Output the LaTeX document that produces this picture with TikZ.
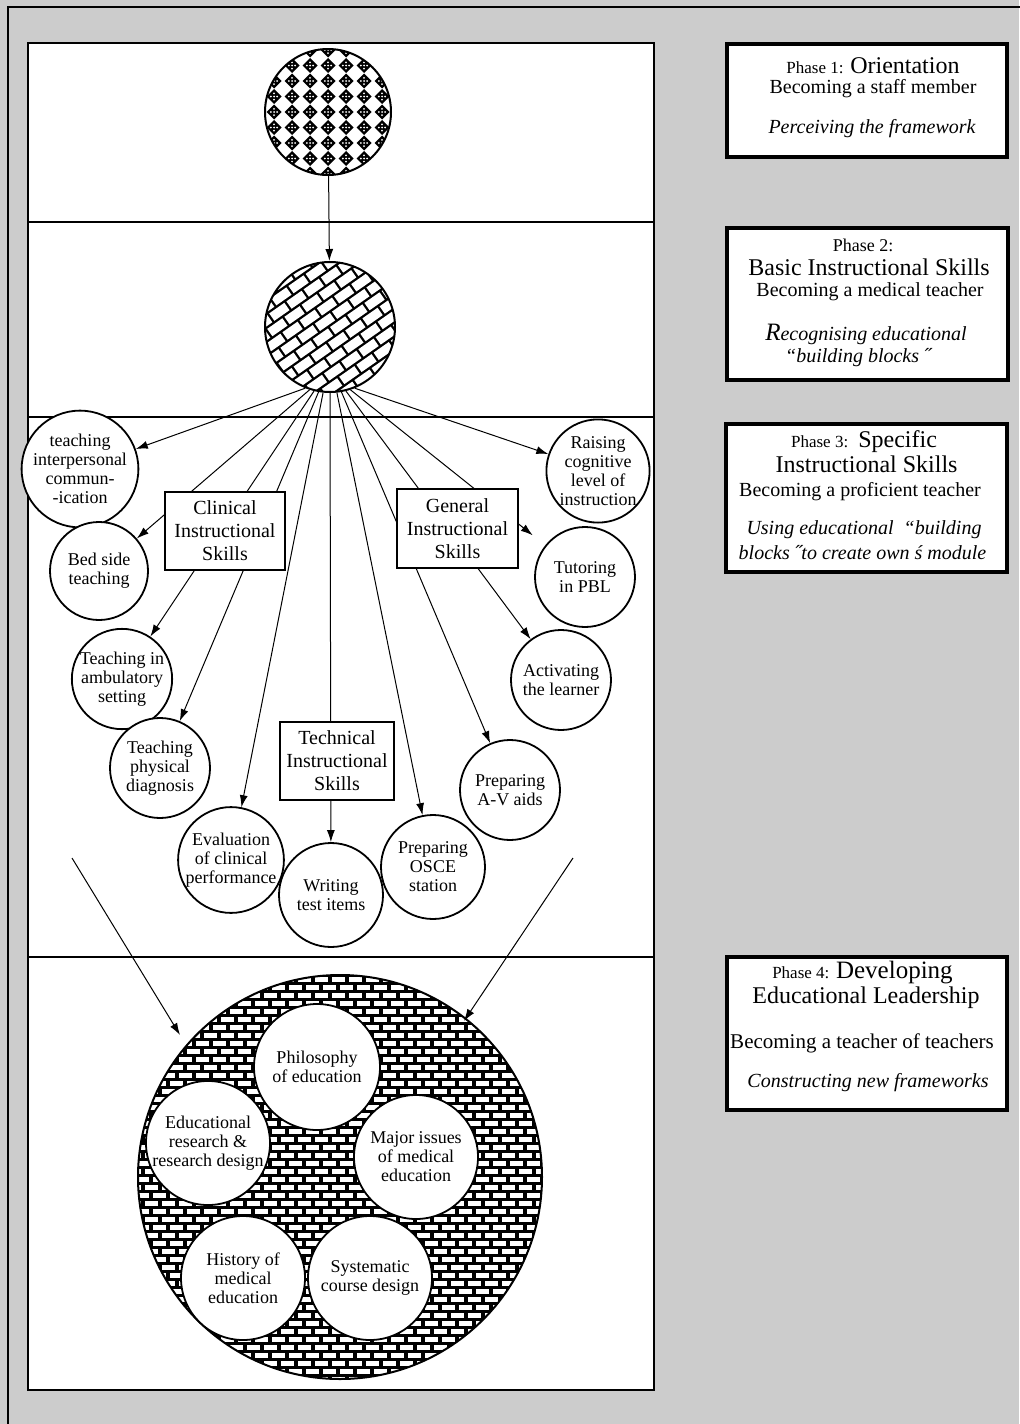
\documentclass[tikz,border=0pt]{standalone}
\usepackage{fontspec}
\setmainfont{Liberation Serif}
\usetikzlibrary{arrows.meta,calc}
\definecolor{pagegray}{RGB}{204,204,204}
\pgfdeclarelayer{bg}
\pgfdeclarelayer{rays}
\pgfsetlayers{bg,rays,main}
\begin{document}
\begin{tikzpicture}[x=0.5pt,y=-0.5pt,
  ray/.style={-{Latex[length=6pt,width=4pt]}, line width=0.5pt},
  skill/.style={circle, draw, line width=0.9pt, fill=white, inner sep=0pt, align=center,
    font=\fontsize{9}{9.5}\selectfont},
  ring/.style={circle, draw, line width=1pt, inner sep=0pt},
  catbox/.style={rectangle, draw, line width=0.7pt, fill=white, align=center, inner sep=0pt,
    font=\fontsize{10}{11.5}\selectfont},
  phasebox/.style={rectangle, draw, line width=2pt, fill=white, inner sep=0pt},
  ptext/.style={anchor=base, inner sep=0pt, font=\fontsize{10}{12}\selectfont},
]
\useasboundingbox (0,0) rectangle (1019,1424);

% page, frame, white panel and phase dividers
\begin{pgfonlayer}{bg}
  \fill[pagegray] (0,0) rectangle (1019,1424);
  \draw[line width=1pt] (8,1440) -- (8,7) -- (1040,7);
  \draw[line width=1.3pt, fill=white] (28,43) rectangle (654,1390);
  \draw[line width=1pt] (28,222) -- (654,222);
  \draw[line width=1pt] (28,417) -- (654,417);
  \draw[line width=1pt] (28,957) -- (654,957);
\end{pgfonlayer}

% phase 1 circle: textured diamonds
\begin{scope}
  \clip (328,112) circle (31.5pt);
  \foreach \i in {-4,...,4}{
    \foreach \j in {-5,...,5}{
      \fill ({328+\i*18},{112+\j*15.5}) +(0,-7.5) -- +(7.5,0) -- +(0,7.5) -- +(-7.5,0) -- cycle;
      \foreach \dx/\dy in {0/-3.2,3.2/0,0/3.2,-3.2/0,0/0}{
        \fill[white] ({328+\i*18+\dx},{112+\j*15.5+\dy}) +(0,-1) -- +(1,0) -- +(0,1) -- +(-1,0) -- cycle;
      }
    }
  }
\end{scope}
\node[ring, minimum size=63pt] (c1) at (328,112) {};

% phase 2 circle: tilted brick pattern
\begin{scope}
  \clip (330,327) circle (32.5pt);
  \fill (330,327) circle (32.5pt);
  \begin{scope}[shift={(330,327)}, rotate=35]
    \foreach \j in {-8,...,8}{
      \foreach \i in {-10,...,10}{
        \fill[white] ({\i*21+\j*10.5},{\j*11.5}) rectangle +(18.5,9);
      }
    }
  \end{scope}
\end{scope}
\node[ring, minimum size=65pt] (c2) at (330,327) {};

% phase 4 circle: brick wall
\begin{scope}
  \clip (340,1177) circle (101pt);
  \fill (340,1177) circle (101pt);
  \foreach \j in {-26,...,26}{
    \foreach \i in {-13,...,13}{
      \fill[white] ({340+\i*17+mod(abs(\j),2)*8.5},{1177+\j*8}) rectangle +(13,4.8);
    }
  }
\end{scope}
\node[ring, minimum size=202pt] (c4) at (340,1177) {};

% category boxes
\node[catbox, minimum width=60pt, minimum height=39pt] (clin) at (225,531)
  {Clinical\\Instructional\\Skills};
\node[catbox, minimum width=60.5pt, minimum height=39.5pt] (gen) at (457.5,528.5)
  {General\\Instructional\\Skills};
\node[catbox, minimum width=57pt, minimum height=39pt] (tech) at (337,761)
  {Technical\\Instructional\\Skills};

% specific instructional skills
\node[skill, minimum size=50pt] (s1) at (80,469) {teaching\\interpersonal\\commun-\\-ication};
\node[skill, minimum size=49pt] (s2) at (99,571) {Bed side\\teaching};
\node[skill, minimum size=50pt] (s3) at (122,679) {Teaching in\\ambulatory\\setting};
\node[skill, minimum size=50pt] (s4) at (160,768) {Teaching\\physical\\diagnosis};
\node[skill, minimum size=51pt] (s5) at (231,860) {Evaluation\\of clinical\\performance};
\node[skill, minimum size=52pt] (s6) at (331,895) {Writing\\test items};
\node[skill, minimum size=52pt] (s7) at (433,867) {Preparing\\OSCE\\station};
\node[skill, minimum size=50pt] (s8) at (510,790) {Preparing\\A-V aids};
\node[skill, minimum size=50pt] (s9) at (561,680) {Activating\\the learner};
\node[skill, minimum size=50pt] (s10) at (585,577) {Tutoring\\in PBL};
\node[skill, minimum size=51pt] (s11) at (598,471) {Raising\\cognitive\\level of\\instruction};

% leadership topics
\node[skill, minimum size=63pt] (b1) at (317,1067) {Philosophy\\of education};
\node[skill, minimum size=60pt] (b2) at (208,1143) {Educational\\research \&\\research design};
\node[skill, minimum size=62pt] (b3) at (416,1157) {Major issues\\of medical\\education};
\node[skill, minimum size=62pt] (b4) at (243,1278) {History of\\medical\\education};
\node[skill, minimum size=62pt] (b5) at (370,1278) {Systematic\\course design};

% connectors
\draw[ray] (c1) -- (c2);
\begin{pgfonlayer}{rays}
  \draw[ray] (c2.248) -- (s1);
  \draw[ray] (c2.252) -- (s2);
  \draw[ray] (c2.256) -- (s3);
  \draw[ray] (c2.260) -- (s4);
  \draw[ray] (c2.264) -- (s5);
  \draw[ray] (c2.270) -- (s6);
  \draw[ray] (c2.276) -- (s7);
  \draw[ray] (c2.280) -- (s8);
  \draw[ray] (c2.284) -- (s9);
  \draw[ray, shorten >=8pt] (c2.288) -- (s10);
  \draw[ray] (c2.292) -- (s11);
\end{pgfonlayer}
\coordinate (la) at (72,858);
\coordinate (lb) at (180,1035);
\coordinate (ra) at (573,858);
\coordinate (rb) at (464,1021);
\draw[ray] (la) -- (lb);
\draw[ray] (ra) -- (rb);

% phase descriptions
\node[phasebox, minimum width=140pt, minimum height=56.5pt] (p1) at (867,100.5) {};
\node[ptext] (p1a) at (873,73) {{\fontsize{8.5}{10}\selectfont Phase 1:} {\fontsize{12}{14}\selectfont Orientation}};
\node[ptext] (p1b) at (873,93) {Becoming a staff member};
\node[ptext] (p1c) at (872,133) {\itshape Perceiving the framework};

\node[phasebox, minimum width=140.5pt, minimum height=76pt] (p2) at (867.5,304) {};
\node[ptext, font=\fontsize{9}{11}\selectfont] (p2a) at (863,251) {Phase 2:};
\node[ptext, font=\fontsize{12}{14}\selectfont] (p2b) at (869,275) {Basic Instructional Skills};
\node[ptext] (p2c) at (870,296) {Becoming a medical teacher};
\node[ptext] (p2d) at (866,340) {\itshape{\fontsize{12.5}{14}\selectfont R}ecognising educational};
\node[ptext] (p2e) at (858,362) {\itshape “building blocks ˝};

\node[phasebox, minimum width=140.5pt, minimum height=74pt] (p3) at (866.5,498) {};
\node[ptext] (p3a) at (864,447) {{\fontsize{8.5}{10}\selectfont Phase 3:}\enspace{\fontsize{12}{14}\selectfont Specific}};
\node[ptext, font=\fontsize{12}{14}\selectfont] (p3b) at (866.5,472) {Instructional Skills};
\node[ptext] (p3c) at (860,496) {Becoming a proficient teacher};
\node[ptext] (p3d) at (864,534) {\itshape Using educational \ “building};
\node[ptext] (p3e) at (862.5,559) {\itshape blocks ˝to create own ś module};

\node[phasebox, minimum width=140pt, minimum height=76.5pt] (p4) at (867,1033.5) {};
\node[ptext] (p4a) at (862.5,978) {{\fontsize{8.5}{10}\selectfont Phase 4:} {\fontsize{12.5}{14}\selectfont Developing}};
\node[ptext, font=\fontsize{12}{14}\selectfont] (p4b) at (866,1003) {Educational Leadership};
\node[ptext, font=\fontsize{10.5}{12}\selectfont] (p4c) at (862,1048) {Becoming a teacher of teachers};
\node[ptext] (p4d) at (868,1087) {\itshape Constructing new frameworks};
\end{tikzpicture}
\end{document}
